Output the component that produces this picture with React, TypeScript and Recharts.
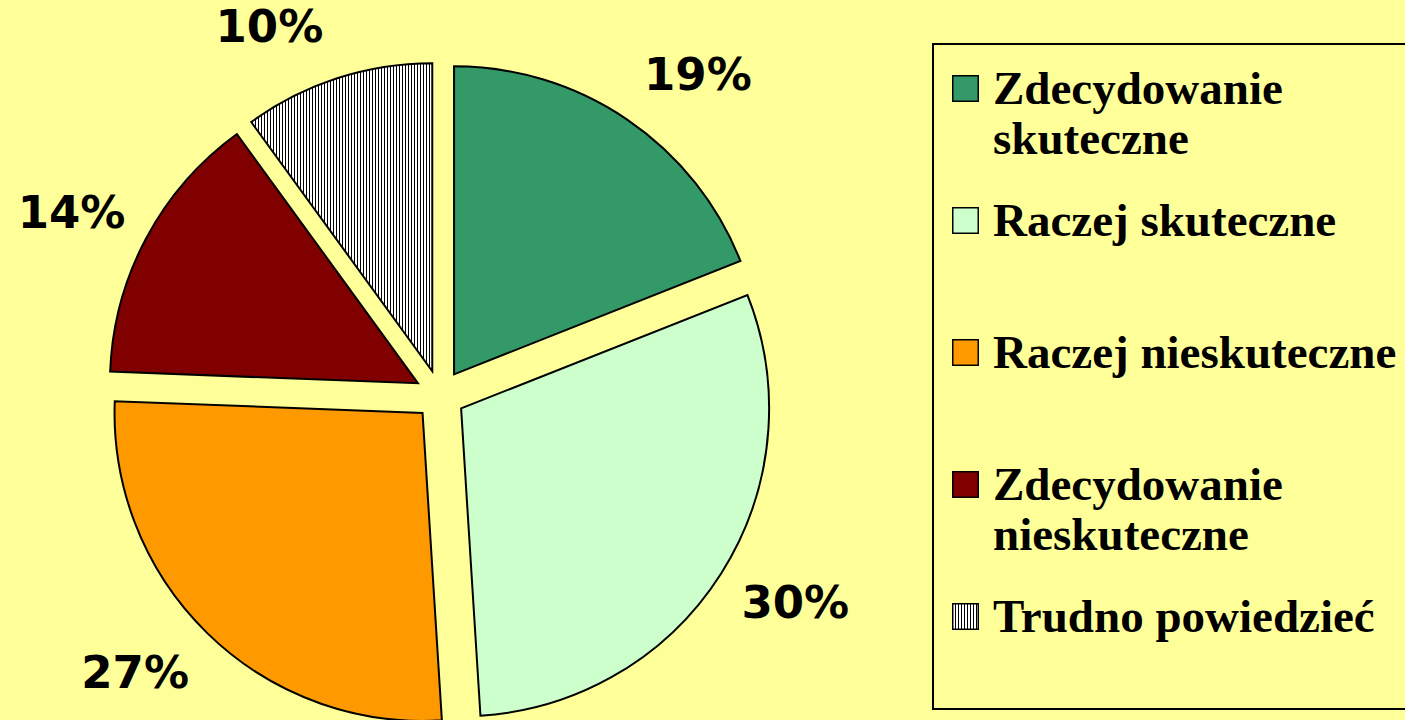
import React from "react";
import { PieChart, Pie, Cell, Legend, Sector } from "recharts";

const categories = [
  "Zdecydowanie skuteczne",
  "Raczej skuteczne",
  "Raczej nieskuteczne",
  "Zdecydowanie nieskuteczne",
  "Trudno powiedzieć",
];
// shares in %, labels show them rounded
const shares = [19, 30, 26.6, 14.4, 10];
const sliceColors = ["#339966", "#CCFFCC", "#FF9900", "#800000", "url(#hatch)"];

const data = categories.map((name, i) => ({ name, value: shares[i] }));

const RAD = Math.PI / 180;
const EXPLODE = 25;
const BG = "#FFFF99";

const ExplodedSector = (props: any) => {
  const { cx, cy, midAngle } = props;
  const dx = EXPLODE * Math.cos(-midAngle * RAD);
  const dy = EXPLODE * Math.sin(-midAngle * RAD);
  return <Sector {...props} cx={cx + dx} cy={cy + dy} />;
};

// label box sits outside the slice, pushed sideways by half its width
const renderLabel = (props: any) => {
  const { cx, cy, midAngle, outerRadius, value } = props;
  const ux = Math.cos(-midAngle * RAD);
  const uy = Math.sin(-midAngle * RAD);
  const x = cx + (outerRadius + 37) * ux + 64 * Math.sign(ux);
  const y = cy + (outerRadius + 79) * uy;
  return (
    <text
      x={x}
      y={y}
      textAnchor="middle"
      dominantBaseline="central"
      fill="#000"
      fontFamily="'DejaVu Sans', Verdana, sans-serif"
      fontWeight="bold"
      fontSize={45}
    >
      {`${Math.round(value)}%`}
    </text>
  );
};

const renderLegend = () => (
  <div
    style={{
      width: "100%",
      height: "100%",
      boxSizing: "border-box",
      border: "2px solid #000",
      paddingTop: 18,
      paddingLeft: 18,
      fontFamily: "'Liberation Serif', 'Times New Roman', serif",
      fontWeight: "bold",
      fontSize: 47,
      lineHeight: "50px",
      color: "#000",
    }}
  >
    {categories.map((name, i) => (
      <div key={name} style={{ display: "flex", height: 132, alignItems: "flex-start" }}>
        <svg width={27} height={27} style={{ marginTop: 12, flex: "none" }}>
          <rect x={0.75} y={0.75} width={25.5} height={25.5} fill={sliceColors[i]} stroke="#000" strokeWidth={1.5} />
        </svg>
        <div style={{ marginLeft: 14, width: 412 }}>{name}</div>
      </div>
    ))}
  </div>
);

export default function App() {
  return (
    <div
      style={{
        position: "absolute",
        left: 0,
        top: 0,
        width: 1405,
        height: 720,
        overflow: "hidden",
        background: BG,
      }}
    >
      <PieChart width={1405} height={720} margin={{ top: 0, right: 0, bottom: 0, left: 0 }}>
        <defs>
          <pattern id="hatch" width={3} height={6} patternUnits="userSpaceOnUse">
            <rect x={0} y={0} width={3} height={6} fill="#fff" />
            <rect x={0} y={0} width={1} height={6} fill="#000" />
          </pattern>
        </defs>
        <Pie
          data={data}
          dataKey="value"
          nameKey="name"
          cx={440}
          cy={395}
          outerRadius={308}
          startAngle={90}
          endAngle={-270}
          stroke="#000"
          strokeWidth={2}
          shape={ExplodedSector}
          label={renderLabel}
          labelLine={false}
          isAnimationActive={false}
        >
          {data.map((d, i) => (
            <Cell key={d.name} fill={sliceColors[i]} />
          ))}
        </Pie>
        <Legend
          layout="vertical"
          align="right"
          verticalAlign="top"
          content={renderLegend}
          wrapperStyle={{ left: 932, top: 43, width: 490, height: 667 }}
        />
      </PieChart>
    </div>
  );
}
